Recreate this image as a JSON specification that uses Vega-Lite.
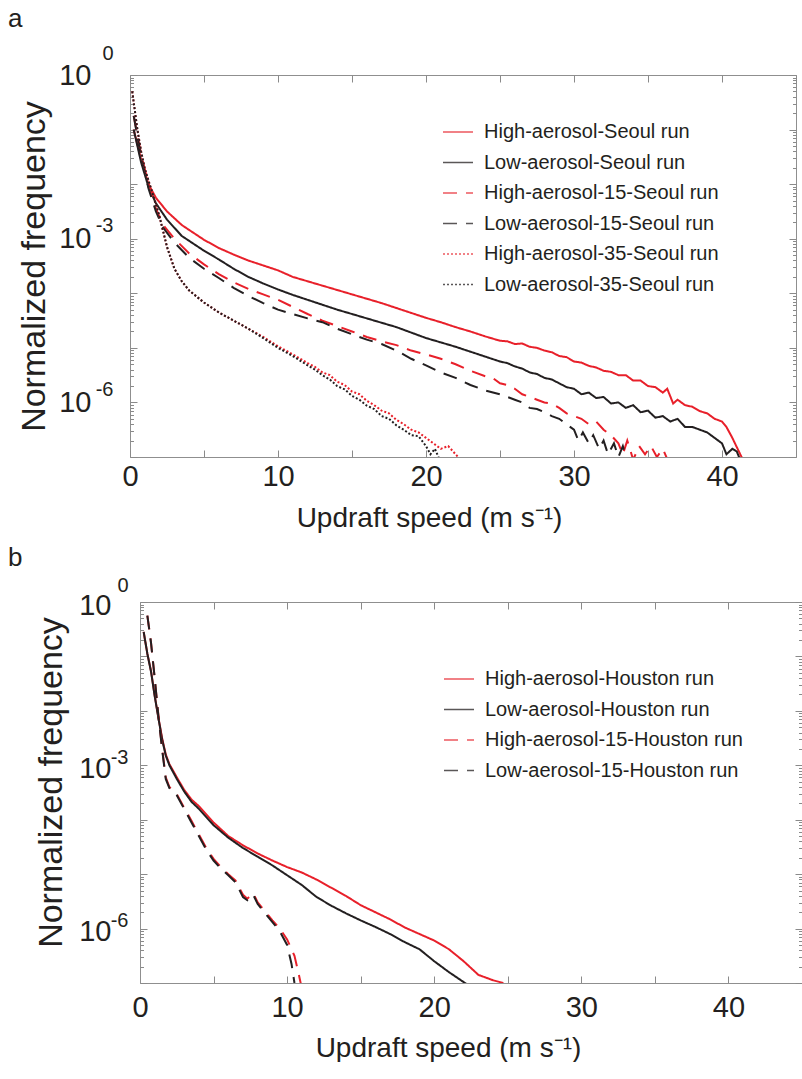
{
 "$schema": "https://vega.github.io/schema/vega-lite/v6.json",
 "padding": {"left": 7, "top": 5, "right": 0, "bottom": 0},
 "config": {
  "view": {"stroke": "#8f8f8f", "strokeWidth": 1},
  "axis": {"domain": false, "grid": false, "labelFlush": false, "tickColor": "#8a8a8a", "tickWidth": 1, "domainColor": "#8f8f8f", "domainWidth": 1, "labelFont": "Liberation Sans", "titleFont": "Liberation Sans", "labelColor": "#231f20", "titleColor": "#231f20", "titleFontWeight": "normal", "labelFontSize": 29, "titleFontSize": 28},
  "legend": {"orient": "none", "title": null, "symbolType": "stroke", "symbolSize": 900, "symbolStrokeWidth": 1.5, "symbolOpacity": 0.75, "labelFontSize": 20, "labelFont": "Liberation Sans", "labelColor": "#231f20", "rowPadding": 4.5, "labelOffset": 10, "labelLimit": 400},
  "concat": {"spacing": 12}
 },
 "resolve": {"scale": {"color": "independent", "strokeDash": "independent"}},
 "datasets": {
  "seoul": [
   {"run":"High-aerosol-Seoul run","w":0.25,"logf":-1.0},{"run":"High-aerosol-Seoul run","w":0.75,"logf":-1.55},{"run":"High-aerosol-Seoul run","w":1.25,"logf":-2.0},{"run":"High-aerosol-Seoul run","w":1.75,"logf":-2.25},{"run":"High-aerosol-Seoul run","w":2.5,"logf":-2.5},{"run":"High-aerosol-Seoul run","w":3.5,"logf":-2.75},{"run":"High-aerosol-Seoul run","w":5,"logf":-3.02},{"run":"High-aerosol-Seoul run","w":6,"logf":-3.17},{"run":"High-aerosol-Seoul run","w":7,"logf":-3.29},{"run":"High-aerosol-Seoul run","w":8,"logf":-3.4},{"run":"High-aerosol-Seoul run","w":9,"logf":-3.49},{"run":"High-aerosol-Seoul run","w":10,"logf":-3.58},{"run":"High-aerosol-Seoul run","w":11,"logf":-3.7},{"run":"High-aerosol-Seoul run","w":12,"logf":-3.78},{"run":"High-aerosol-Seoul run","w":13,"logf":-3.86},{"run":"High-aerosol-Seoul run","w":14,"logf":-3.94},{"run":"High-aerosol-Seoul run","w":15,"logf":-4.02},{"run":"High-aerosol-Seoul run","w":16,"logf":-4.1},{"run":"High-aerosol-Seoul run","w":17,"logf":-4.18},{"run":"High-aerosol-Seoul run","w":18,"logf":-4.27},{"run":"High-aerosol-Seoul run","w":19,"logf":-4.36},{"run":"High-aerosol-Seoul run","w":20,"logf":-4.45},{"run":"High-aerosol-Seoul run","w":21,"logf":-4.53},{"run":"High-aerosol-Seoul run","w":22,"logf":-4.62},{"run":"High-aerosol-Seoul run","w":23,"logf":-4.7},{"run":"High-aerosol-Seoul run","w":24,"logf":-4.79},{"run":"High-aerosol-Seoul run","w":25,"logf":-4.87},{"run":"High-aerosol-Seoul run","w":25.5,"logf":-4.88},{"run":"High-aerosol-Seoul run","w":26,"logf":-4.93},{"run":"High-aerosol-Seoul run","w":26.5,"logf":-4.92},{"run":"High-aerosol-Seoul run","w":27,"logf":-4.98},{"run":"High-aerosol-Seoul run","w":27.5,"logf":-5.0},{"run":"High-aerosol-Seoul run","w":28,"logf":-5.05},{"run":"High-aerosol-Seoul run","w":28.5,"logf":-5.08},{"run":"High-aerosol-Seoul run","w":29,"logf":-5.15},{"run":"High-aerosol-Seoul run","w":29.5,"logf":-5.17},{"run":"High-aerosol-Seoul run","w":30,"logf":-5.25},{"run":"High-aerosol-Seoul run","w":30.5,"logf":-5.27},{"run":"High-aerosol-Seoul run","w":31,"logf":-5.33},{"run":"High-aerosol-Seoul run","w":31.5,"logf":-5.36},{"run":"High-aerosol-Seoul run","w":32,"logf":-5.42},{"run":"High-aerosol-Seoul run","w":32.5,"logf":-5.44},{"run":"High-aerosol-Seoul run","w":33,"logf":-5.5},{"run":"High-aerosol-Seoul run","w":33.5,"logf":-5.5},{"run":"High-aerosol-Seoul run","w":34,"logf":-5.6},{"run":"High-aerosol-Seoul run","w":34.5,"logf":-5.6},{"run":"High-aerosol-Seoul run","w":35,"logf":-5.7},{"run":"High-aerosol-Seoul run","w":35.5,"logf":-5.72},{"run":"High-aerosol-Seoul run","w":36,"logf":-5.82},{"run":"High-aerosol-Seoul run","w":36.3,"logf":-5.75},{"run":"High-aerosol-Seoul run","w":36.7,"logf":-6.02},{"run":"High-aerosol-Seoul run","w":37,"logf":-5.95},{"run":"High-aerosol-Seoul run","w":37.5,"logf":-6.05},{"run":"High-aerosol-Seoul run","w":38,"logf":-6.08},{"run":"High-aerosol-Seoul run","w":38.5,"logf":-6.16},{"run":"High-aerosol-Seoul run","w":39,"logf":-6.2},{"run":"High-aerosol-Seoul run","w":39.5,"logf":-6.3},{"run":"High-aerosol-Seoul run","w":40,"logf":-6.35},{"run":"High-aerosol-Seoul run","w":40.3,"logf":-6.45},{"run":"High-aerosol-Seoul run","w":40.7,"logf":-6.65},{"run":"High-aerosol-Seoul run","w":41,"logf":-6.82},{"run":"High-aerosol-Seoul run","w":41.5,"logf":-7.1},

   {"run":"Low-aerosol-Seoul run","w":0.25,"logf":-1.0},{"run":"Low-aerosol-Seoul run","w":0.75,"logf":-1.6},{"run":"Low-aerosol-Seoul run","w":1.25,"logf":-2.05},{"run":"Low-aerosol-Seoul run","w":1.75,"logf":-2.35},{"run":"Low-aerosol-Seoul run","w":2.5,"logf":-2.65},{"run":"Low-aerosol-Seoul run","w":3.5,"logf":-2.95},{"run":"Low-aerosol-Seoul run","w":5,"logf":-3.22},{"run":"Low-aerosol-Seoul run","w":6,"logf":-3.38},{"run":"Low-aerosol-Seoul run","w":7,"logf":-3.55},{"run":"Low-aerosol-Seoul run","w":8,"logf":-3.7},{"run":"Low-aerosol-Seoul run","w":9,"logf":-3.82},{"run":"Low-aerosol-Seoul run","w":10,"logf":-3.93},{"run":"Low-aerosol-Seoul run","w":11,"logf":-4.03},{"run":"Low-aerosol-Seoul run","w":12,"logf":-4.12},{"run":"Low-aerosol-Seoul run","w":13,"logf":-4.21},{"run":"Low-aerosol-Seoul run","w":14,"logf":-4.3},{"run":"Low-aerosol-Seoul run","w":15,"logf":-4.38},{"run":"Low-aerosol-Seoul run","w":16,"logf":-4.46},{"run":"Low-aerosol-Seoul run","w":17,"logf":-4.54},{"run":"Low-aerosol-Seoul run","w":18,"logf":-4.62},{"run":"Low-aerosol-Seoul run","w":19,"logf":-4.72},{"run":"Low-aerosol-Seoul run","w":20,"logf":-4.82},{"run":"Low-aerosol-Seoul run","w":21,"logf":-4.9},{"run":"Low-aerosol-Seoul run","w":22,"logf":-4.98},{"run":"Low-aerosol-Seoul run","w":23,"logf":-5.07},{"run":"Low-aerosol-Seoul run","w":24,"logf":-5.16},{"run":"Low-aerosol-Seoul run","w":25,"logf":-5.25},{"run":"Low-aerosol-Seoul run","w":25.5,"logf":-5.28},{"run":"Low-aerosol-Seoul run","w":26,"logf":-5.34},{"run":"Low-aerosol-Seoul run","w":26.5,"logf":-5.38},{"run":"Low-aerosol-Seoul run","w":27,"logf":-5.45},{"run":"Low-aerosol-Seoul run","w":27.5,"logf":-5.48},{"run":"Low-aerosol-Seoul run","w":28,"logf":-5.55},{"run":"Low-aerosol-Seoul run","w":28.5,"logf":-5.58},{"run":"Low-aerosol-Seoul run","w":29,"logf":-5.65},{"run":"Low-aerosol-Seoul run","w":29.5,"logf":-5.72},{"run":"Low-aerosol-Seoul run","w":30,"logf":-5.75},{"run":"Low-aerosol-Seoul run","w":30.5,"logf":-5.85},{"run":"Low-aerosol-Seoul run","w":31,"logf":-5.82},{"run":"Low-aerosol-Seoul run","w":31.5,"logf":-5.92},{"run":"Low-aerosol-Seoul run","w":32,"logf":-5.9},{"run":"Low-aerosol-Seoul run","w":32.5,"logf":-6.02},{"run":"Low-aerosol-Seoul run","w":33,"logf":-6.0},{"run":"Low-aerosol-Seoul run","w":33.5,"logf":-6.1},{"run":"Low-aerosol-Seoul run","w":34,"logf":-6.05},{"run":"Low-aerosol-Seoul run","w":34.5,"logf":-6.18},{"run":"Low-aerosol-Seoul run","w":35,"logf":-6.15},{"run":"Low-aerosol-Seoul run","w":35.5,"logf":-6.28},{"run":"Low-aerosol-Seoul run","w":36,"logf":-6.25},{"run":"Low-aerosol-Seoul run","w":36.5,"logf":-6.35},{"run":"Low-aerosol-Seoul run","w":37,"logf":-6.3},{"run":"Low-aerosol-Seoul run","w":37.5,"logf":-6.45},{"run":"Low-aerosol-Seoul run","w":38,"logf":-6.45},{"run":"Low-aerosol-Seoul run","w":38.5,"logf":-6.5},{"run":"Low-aerosol-Seoul run","w":39,"logf":-6.55},{"run":"Low-aerosol-Seoul run","w":39.5,"logf":-6.65},{"run":"Low-aerosol-Seoul run","w":40,"logf":-6.75},{"run":"Low-aerosol-Seoul run","w":40.3,"logf":-6.95},{"run":"Low-aerosol-Seoul run","w":40.7,"logf":-6.85},{"run":"Low-aerosol-Seoul run","w":41,"logf":-6.9},{"run":"Low-aerosol-Seoul run","w":41.3,"logf":-7.1},

   {"run":"High-aerosol-15-Seoul run","w":0.25,"logf":-0.75},{"run":"High-aerosol-15-Seoul run","w":0.75,"logf":-1.45},{"run":"High-aerosol-15-Seoul run","w":1.25,"logf":-2.0},{"run":"High-aerosol-15-Seoul run","w":1.75,"logf":-2.45},{"run":"High-aerosol-15-Seoul run","w":2.25,"logf":-2.75},{"run":"High-aerosol-15-Seoul run","w":3,"logf":-3.0},{"run":"High-aerosol-15-Seoul run","w":4,"logf":-3.27},{"run":"High-aerosol-15-Seoul run","w":5,"logf":-3.47},{"run":"High-aerosol-15-Seoul run","w":6,"logf":-3.65},{"run":"High-aerosol-15-Seoul run","w":7,"logf":-3.8},{"run":"High-aerosol-15-Seoul run","w":8,"logf":-3.92},{"run":"High-aerosol-15-Seoul run","w":9,"logf":-4.02},{"run":"High-aerosol-15-Seoul run","w":10,"logf":-4.12},{"run":"High-aerosol-15-Seoul run","w":11,"logf":-4.25},{"run":"High-aerosol-15-Seoul run","w":12,"logf":-4.38},{"run":"High-aerosol-15-Seoul run","w":13,"logf":-4.5},{"run":"High-aerosol-15-Seoul run","w":14,"logf":-4.6},{"run":"High-aerosol-15-Seoul run","w":15,"logf":-4.7},{"run":"High-aerosol-15-Seoul run","w":16,"logf":-4.8},{"run":"High-aerosol-15-Seoul run","w":17,"logf":-4.88},{"run":"High-aerosol-15-Seoul run","w":18,"logf":-4.95},{"run":"High-aerosol-15-Seoul run","w":19,"logf":-5.05},{"run":"High-aerosol-15-Seoul run","w":20,"logf":-5.12},{"run":"High-aerosol-15-Seoul run","w":21,"logf":-5.2},{"run":"High-aerosol-15-Seoul run","w":22,"logf":-5.3},{"run":"High-aerosol-15-Seoul run","w":23,"logf":-5.42},{"run":"High-aerosol-15-Seoul run","w":24,"logf":-5.52},{"run":"High-aerosol-15-Seoul run","w":24.5,"logf":-5.55},{"run":"High-aerosol-15-Seoul run","w":25,"logf":-5.65},{"run":"High-aerosol-15-Seoul run","w":25.5,"logf":-5.68},{"run":"High-aerosol-15-Seoul run","w":26,"logf":-5.75},{"run":"High-aerosol-15-Seoul run","w":26.5,"logf":-5.85},{"run":"High-aerosol-15-Seoul run","w":27,"logf":-5.9},{"run":"High-aerosol-15-Seoul run","w":27.5,"logf":-5.95},{"run":"High-aerosol-15-Seoul run","w":28,"logf":-6.0},{"run":"High-aerosol-15-Seoul run","w":28.5,"logf":-6.02},{"run":"High-aerosol-15-Seoul run","w":29,"logf":-6.1},{"run":"High-aerosol-15-Seoul run","w":29.5,"logf":-6.2},{"run":"High-aerosol-15-Seoul run","w":30,"logf":-6.25},{"run":"High-aerosol-15-Seoul run","w":30.5,"logf":-6.3},{"run":"High-aerosol-15-Seoul run","w":31,"logf":-6.4},{"run":"High-aerosol-15-Seoul run","w":31.5,"logf":-6.35},{"run":"High-aerosol-15-Seoul run","w":32,"logf":-6.5},{"run":"High-aerosol-15-Seoul run","w":32.5,"logf":-6.6},{"run":"High-aerosol-15-Seoul run","w":33,"logf":-6.75},{"run":"High-aerosol-15-Seoul run","w":33.3,"logf":-6.95},{"run":"High-aerosol-15-Seoul run","w":33.6,"logf":-6.7},{"run":"High-aerosol-15-Seoul run","w":34,"logf":-7.05},{"run":"High-aerosol-15-Seoul run","w":34.4,"logf":-6.8},{"run":"High-aerosol-15-Seoul run","w":34.8,"logf":-6.95},{"run":"High-aerosol-15-Seoul run","w":35.2,"logf":-6.8},{"run":"High-aerosol-15-Seoul run","w":35.6,"logf":-7.0},{"run":"High-aerosol-15-Seoul run","w":36,"logf":-6.85},{"run":"High-aerosol-15-Seoul run","w":36.4,"logf":-7.1},

   {"run":"Low-aerosol-15-Seoul run","w":0.25,"logf":-0.75},{"run":"Low-aerosol-15-Seoul run","w":0.75,"logf":-1.5},{"run":"Low-aerosol-15-Seoul run","w":1.25,"logf":-2.08},{"run":"Low-aerosol-15-Seoul run","w":1.75,"logf":-2.5},{"run":"Low-aerosol-15-Seoul run","w":2.25,"logf":-2.8},{"run":"Low-aerosol-15-Seoul run","w":3,"logf":-3.07},{"run":"Low-aerosol-15-Seoul run","w":4,"logf":-3.35},{"run":"Low-aerosol-15-Seoul run","w":5,"logf":-3.55},{"run":"Low-aerosol-15-Seoul run","w":6,"logf":-3.72},{"run":"Low-aerosol-15-Seoul run","w":7,"logf":-3.9},{"run":"Low-aerosol-15-Seoul run","w":8,"logf":-4.05},{"run":"Low-aerosol-15-Seoul run","w":9,"logf":-4.18},{"run":"Low-aerosol-15-Seoul run","w":10,"logf":-4.3},{"run":"Low-aerosol-15-Seoul run","w":11,"logf":-4.38},{"run":"Low-aerosol-15-Seoul run","w":12,"logf":-4.46},{"run":"Low-aerosol-15-Seoul run","w":13,"logf":-4.53},{"run":"Low-aerosol-15-Seoul run","w":14,"logf":-4.65},{"run":"Low-aerosol-15-Seoul run","w":15,"logf":-4.75},{"run":"Low-aerosol-15-Seoul run","w":16,"logf":-4.85},{"run":"Low-aerosol-15-Seoul run","w":17,"logf":-4.93},{"run":"Low-aerosol-15-Seoul run","w":18,"logf":-5.05},{"run":"Low-aerosol-15-Seoul run","w":19,"logf":-5.2},{"run":"Low-aerosol-15-Seoul run","w":20,"logf":-5.32},{"run":"Low-aerosol-15-Seoul run","w":21,"logf":-5.45},{"run":"Low-aerosol-15-Seoul run","w":22,"logf":-5.55},{"run":"Low-aerosol-15-Seoul run","w":23,"logf":-5.68},{"run":"Low-aerosol-15-Seoul run","w":24,"logf":-5.78},{"run":"Low-aerosol-15-Seoul run","w":25,"logf":-5.85},{"run":"Low-aerosol-15-Seoul run","w":26,"logf":-5.95},{"run":"Low-aerosol-15-Seoul run","w":26.5,"logf":-6.0},{"run":"Low-aerosol-15-Seoul run","w":27,"logf":-6.1},{"run":"Low-aerosol-15-Seoul run","w":27.5,"logf":-6.12},{"run":"Low-aerosol-15-Seoul run","w":28,"logf":-6.18},{"run":"Low-aerosol-15-Seoul run","w":28.5,"logf":-6.25},{"run":"Low-aerosol-15-Seoul run","w":29,"logf":-6.3},{"run":"Low-aerosol-15-Seoul run","w":29.5,"logf":-6.4},{"run":"Low-aerosol-15-Seoul run","w":30,"logf":-6.5},{"run":"Low-aerosol-15-Seoul run","w":30.3,"logf":-6.7},{"run":"Low-aerosol-15-Seoul run","w":30.6,"logf":-6.55},{"run":"Low-aerosol-15-Seoul run","w":31,"logf":-6.75},{"run":"Low-aerosol-15-Seoul run","w":31.3,"logf":-6.6},{"run":"Low-aerosol-15-Seoul run","w":31.7,"logf":-6.85},{"run":"Low-aerosol-15-Seoul run","w":32,"logf":-6.7},{"run":"Low-aerosol-15-Seoul run","w":32.3,"logf":-6.95},{"run":"Low-aerosol-15-Seoul run","w":32.7,"logf":-6.75},{"run":"Low-aerosol-15-Seoul run","w":33,"logf":-7.0},{"run":"Low-aerosol-15-Seoul run","w":33.3,"logf":-6.8},{"run":"Low-aerosol-15-Seoul run","w":33.6,"logf":-7.1},

   {"run":"High-aerosol-35-Seoul run","w":0.15,"logf":-0.3},{"run":"High-aerosol-35-Seoul run","w":0.5,"logf":-1.0},{"run":"High-aerosol-35-Seoul run","w":0.75,"logf":-1.4},{"run":"High-aerosol-35-Seoul run","w":1.0,"logf":-1.72},{"run":"High-aerosol-35-Seoul run","w":1.5,"logf":-2.15},{"run":"High-aerosol-35-Seoul run","w":2.0,"logf":-2.6},{"run":"High-aerosol-35-Seoul run","w":2.5,"logf":-3.15},{"run":"High-aerosol-35-Seoul run","w":3.0,"logf":-3.55},{"run":"High-aerosol-35-Seoul run","w":3.5,"logf":-3.78},{"run":"High-aerosol-35-Seoul run","w":4,"logf":-3.95},{"run":"High-aerosol-35-Seoul run","w":5,"logf":-4.17},{"run":"High-aerosol-35-Seoul run","w":6,"logf":-4.35},{"run":"High-aerosol-35-Seoul run","w":7,"logf":-4.5},{"run":"High-aerosol-35-Seoul run","w":8,"logf":-4.65},{"run":"High-aerosol-35-Seoul run","w":9,"logf":-4.8},{"run":"High-aerosol-35-Seoul run","w":10,"logf":-4.97},{"run":"High-aerosol-35-Seoul run","w":11,"logf":-5.12},{"run":"High-aerosol-35-Seoul run","w":12,"logf":-5.28},{"run":"High-aerosol-35-Seoul run","w":12.5,"logf":-5.35},{"run":"High-aerosol-35-Seoul run","w":13,"logf":-5.45},{"run":"High-aerosol-35-Seoul run","w":13.5,"logf":-5.5},{"run":"High-aerosol-35-Seoul run","w":14,"logf":-5.62},{"run":"High-aerosol-35-Seoul run","w":14.5,"logf":-5.68},{"run":"High-aerosol-35-Seoul run","w":15,"logf":-5.8},{"run":"High-aerosol-35-Seoul run","w":15.5,"logf":-5.85},{"run":"High-aerosol-35-Seoul run","w":16,"logf":-5.97},{"run":"High-aerosol-35-Seoul run","w":16.5,"logf":-6.05},{"run":"High-aerosol-35-Seoul run","w":17,"logf":-6.15},{"run":"High-aerosol-35-Seoul run","w":17.5,"logf":-6.2},{"run":"High-aerosol-35-Seoul run","w":18,"logf":-6.32},{"run":"High-aerosol-35-Seoul run","w":18.5,"logf":-6.4},{"run":"High-aerosol-35-Seoul run","w":19,"logf":-6.5},{"run":"High-aerosol-35-Seoul run","w":19.5,"logf":-6.55},{"run":"High-aerosol-35-Seoul run","w":20,"logf":-6.65},{"run":"High-aerosol-35-Seoul run","w":20.5,"logf":-6.75},{"run":"High-aerosol-35-Seoul run","w":21,"logf":-6.85},{"run":"High-aerosol-35-Seoul run","w":21.5,"logf":-6.8},{"run":"High-aerosol-35-Seoul run","w":22,"logf":-6.95},{"run":"High-aerosol-35-Seoul run","w":22.5,"logf":-7.1},

   {"run":"Low-aerosol-35-Seoul run","w":0.15,"logf":-0.3},{"run":"Low-aerosol-35-Seoul run","w":0.5,"logf":-1.0},{"run":"Low-aerosol-35-Seoul run","w":0.75,"logf":-1.4},{"run":"Low-aerosol-35-Seoul run","w":1.0,"logf":-1.72},{"run":"Low-aerosol-35-Seoul run","w":1.5,"logf":-2.15},{"run":"Low-aerosol-35-Seoul run","w":2.0,"logf":-2.6},{"run":"Low-aerosol-35-Seoul run","w":2.5,"logf":-3.15},{"run":"Low-aerosol-35-Seoul run","w":3.0,"logf":-3.55},{"run":"Low-aerosol-35-Seoul run","w":3.5,"logf":-3.78},{"run":"Low-aerosol-35-Seoul run","w":4,"logf":-3.95},{"run":"Low-aerosol-35-Seoul run","w":5,"logf":-4.17},{"run":"Low-aerosol-35-Seoul run","w":6,"logf":-4.35},{"run":"Low-aerosol-35-Seoul run","w":7,"logf":-4.5},{"run":"Low-aerosol-35-Seoul run","w":8,"logf":-4.65},{"run":"Low-aerosol-35-Seoul run","w":9,"logf":-4.82},{"run":"Low-aerosol-35-Seoul run","w":10,"logf":-5.0},{"run":"Low-aerosol-35-Seoul run","w":11,"logf":-5.15},{"run":"Low-aerosol-35-Seoul run","w":12,"logf":-5.32},{"run":"Low-aerosol-35-Seoul run","w":12.5,"logf":-5.4},{"run":"Low-aerosol-35-Seoul run","w":13,"logf":-5.5},{"run":"Low-aerosol-35-Seoul run","w":13.5,"logf":-5.58},{"run":"Low-aerosol-35-Seoul run","w":14,"logf":-5.7},{"run":"Low-aerosol-35-Seoul run","w":14.5,"logf":-5.76},{"run":"Low-aerosol-35-Seoul run","w":15,"logf":-5.88},{"run":"Low-aerosol-35-Seoul run","w":15.5,"logf":-5.95},{"run":"Low-aerosol-35-Seoul run","w":16,"logf":-6.06},{"run":"Low-aerosol-35-Seoul run","w":16.5,"logf":-6.12},{"run":"Low-aerosol-35-Seoul run","w":17,"logf":-6.25},{"run":"Low-aerosol-35-Seoul run","w":17.5,"logf":-6.3},{"run":"Low-aerosol-35-Seoul run","w":18,"logf":-6.42},{"run":"Low-aerosol-35-Seoul run","w":18.5,"logf":-6.5},{"run":"Low-aerosol-35-Seoul run","w":19,"logf":-6.6},{"run":"Low-aerosol-35-Seoul run","w":19.5,"logf":-6.62},{"run":"Low-aerosol-35-Seoul run","w":20,"logf":-6.8},{"run":"Low-aerosol-35-Seoul run","w":20.3,"logf":-6.95},{"run":"Low-aerosol-35-Seoul run","w":20.6,"logf":-6.85},{"run":"Low-aerosol-35-Seoul run","w":21,"logf":-7.1}
  ],
  "houston": [
   {"run":"High-aerosol-Houston run","w":0.25,"logf":-0.55},{"run":"High-aerosol-Houston run","w":0.5,"logf":-0.95},{"run":"High-aerosol-Houston run","w":0.75,"logf":-1.27},{"run":"High-aerosol-Houston run","w":1.0,"logf":-1.72},{"run":"High-aerosol-Houston run","w":1.25,"logf":-2.12},{"run":"High-aerosol-Houston run","w":1.5,"logf":-2.5},{"run":"High-aerosol-Houston run","w":1.75,"logf":-2.8},{"run":"High-aerosol-Houston run","w":2.0,"logf":-2.98},{"run":"High-aerosol-Houston run","w":2.5,"logf":-3.22},{"run":"High-aerosol-Houston run","w":3,"logf":-3.45},{"run":"High-aerosol-Houston run","w":3.5,"logf":-3.63},{"run":"High-aerosol-Houston run","w":4,"logf":-3.75},{"run":"High-aerosol-Houston run","w":5,"logf":-4.05},{"run":"High-aerosol-Houston run","w":6,"logf":-4.3},{"run":"High-aerosol-Houston run","w":7,"logf":-4.47},{"run":"High-aerosol-Houston run","w":8,"logf":-4.62},{"run":"High-aerosol-Houston run","w":9,"logf":-4.75},{"run":"High-aerosol-Houston run","w":10,"logf":-4.87},{"run":"High-aerosol-Houston run","w":11,"logf":-4.97},{"run":"High-aerosol-Houston run","w":12,"logf":-5.1},{"run":"High-aerosol-Houston run","w":13,"logf":-5.25},{"run":"High-aerosol-Houston run","w":14,"logf":-5.4},{"run":"High-aerosol-Houston run","w":15,"logf":-5.57},{"run":"High-aerosol-Houston run","w":16,"logf":-5.7},{"run":"High-aerosol-Houston run","w":17,"logf":-5.83},{"run":"High-aerosol-Houston run","w":18,"logf":-5.98},{"run":"High-aerosol-Houston run","w":19,"logf":-6.1},{"run":"High-aerosol-Houston run","w":20,"logf":-6.22},{"run":"High-aerosol-Houston run","w":21,"logf":-6.38},{"run":"High-aerosol-Houston run","w":22,"logf":-6.6},{"run":"High-aerosol-Houston run","w":23,"logf":-6.85},{"run":"High-aerosol-Houston run","w":24,"logf":-6.95},{"run":"High-aerosol-Houston run","w":24.7,"logf":-7.0},

   {"run":"Low-aerosol-Houston run","w":0.25,"logf":-0.55},{"run":"Low-aerosol-Houston run","w":0.5,"logf":-0.95},{"run":"Low-aerosol-Houston run","w":0.75,"logf":-1.28},{"run":"Low-aerosol-Houston run","w":1.0,"logf":-1.73},{"run":"Low-aerosol-Houston run","w":1.25,"logf":-2.13},{"run":"Low-aerosol-Houston run","w":1.5,"logf":-2.52},{"run":"Low-aerosol-Houston run","w":1.75,"logf":-2.82},{"run":"Low-aerosol-Houston run","w":2.0,"logf":-3.0},{"run":"Low-aerosol-Houston run","w":2.5,"logf":-3.25},{"run":"Low-aerosol-Houston run","w":3,"logf":-3.48},{"run":"Low-aerosol-Houston run","w":3.5,"logf":-3.67},{"run":"Low-aerosol-Houston run","w":4,"logf":-3.8},{"run":"Low-aerosol-Houston run","w":5,"logf":-4.1},{"run":"Low-aerosol-Houston run","w":6,"logf":-4.33},{"run":"Low-aerosol-Houston run","w":7,"logf":-4.52},{"run":"Low-aerosol-Houston run","w":8,"logf":-4.68},{"run":"Low-aerosol-Houston run","w":9,"logf":-4.84},{"run":"Low-aerosol-Houston run","w":10,"logf":-5.02},{"run":"Low-aerosol-Houston run","w":11,"logf":-5.2},{"run":"Low-aerosol-Houston run","w":12,"logf":-5.42},{"run":"Low-aerosol-Houston run","w":13,"logf":-5.58},{"run":"Low-aerosol-Houston run","w":14,"logf":-5.72},{"run":"Low-aerosol-Houston run","w":15,"logf":-5.85},{"run":"Low-aerosol-Houston run","w":16,"logf":-5.97},{"run":"Low-aerosol-Houston run","w":17,"logf":-6.1},{"run":"Low-aerosol-Houston run","w":18,"logf":-6.25},{"run":"Low-aerosol-Houston run","w":19,"logf":-6.38},{"run":"Low-aerosol-Houston run","w":20,"logf":-6.6},{"run":"Low-aerosol-Houston run","w":21,"logf":-6.8},{"run":"Low-aerosol-Houston run","w":22.2,"logf":-7.02},

   {"run":"High-aerosol-15-Houston run","w":0.5,"logf":-0.25},{"run":"High-aerosol-15-Houston run","w":0.75,"logf":-0.75},{"run":"High-aerosol-15-Houston run","w":1.0,"logf":-1.4},{"run":"High-aerosol-15-Houston run","w":1.25,"logf":-2.08},{"run":"High-aerosol-15-Houston run","w":1.5,"logf":-2.68},{"run":"High-aerosol-15-Houston run","w":1.75,"logf":-3.22},{"run":"High-aerosol-15-Houston run","w":2.0,"logf":-3.4},{"run":"High-aerosol-15-Houston run","w":2.5,"logf":-3.53},{"run":"High-aerosol-15-Houston run","w":3.0,"logf":-3.78},{"run":"High-aerosol-15-Houston run","w":3.5,"logf":-4.02},{"run":"High-aerosol-15-Houston run","w":4,"logf":-4.27},{"run":"High-aerosol-15-Houston run","w":4.5,"logf":-4.52},{"run":"High-aerosol-15-Houston run","w":5,"logf":-4.72},{"run":"High-aerosol-15-Houston run","w":5.5,"logf":-4.87},{"run":"High-aerosol-15-Houston run","w":6,"logf":-5.0},{"run":"High-aerosol-15-Houston run","w":6.5,"logf":-5.12},{"run":"High-aerosol-15-Houston run","w":7.0,"logf":-5.38},{"run":"High-aerosol-15-Houston run","w":7.3,"logf":-5.45},{"run":"High-aerosol-15-Houston run","w":7.7,"logf":-5.35},{"run":"High-aerosol-15-Houston run","w":8.0,"logf":-5.52},{"run":"High-aerosol-15-Houston run","w":8.5,"logf":-5.68},{"run":"High-aerosol-15-Houston run","w":9,"logf":-5.85},{"run":"High-aerosol-15-Houston run","w":9.5,"logf":-6.0},{"run":"High-aerosol-15-Houston run","w":10,"logf":-6.2},{"run":"High-aerosol-15-Houston run","w":10.5,"logf":-6.5},{"run":"High-aerosol-15-Houston run","w":10.8,"logf":-6.85},{"run":"High-aerosol-15-Houston run","w":11,"logf":-7.1},

   {"run":"Low-aerosol-15-Houston run","w":0.5,"logf":-0.25},{"run":"Low-aerosol-15-Houston run","w":0.75,"logf":-0.75},{"run":"Low-aerosol-15-Houston run","w":1.0,"logf":-1.4},{"run":"Low-aerosol-15-Houston run","w":1.25,"logf":-2.1},{"run":"Low-aerosol-15-Houston run","w":1.5,"logf":-2.7},{"run":"Low-aerosol-15-Houston run","w":1.75,"logf":-3.25},{"run":"Low-aerosol-15-Houston run","w":2.0,"logf":-3.42},{"run":"Low-aerosol-15-Houston run","w":2.5,"logf":-3.55},{"run":"Low-aerosol-15-Houston run","w":3.0,"logf":-3.8},{"run":"Low-aerosol-15-Houston run","w":3.5,"logf":-4.05},{"run":"Low-aerosol-15-Houston run","w":4,"logf":-4.3},{"run":"Low-aerosol-15-Houston run","w":4.5,"logf":-4.55},{"run":"Low-aerosol-15-Houston run","w":5,"logf":-4.75},{"run":"Low-aerosol-15-Houston run","w":5.5,"logf":-4.9},{"run":"Low-aerosol-15-Houston run","w":6,"logf":-5.02},{"run":"Low-aerosol-15-Houston run","w":6.5,"logf":-5.15},{"run":"Low-aerosol-15-Houston run","w":7.0,"logf":-5.42},{"run":"Low-aerosol-15-Houston run","w":7.3,"logf":-5.48},{"run":"Low-aerosol-15-Houston run","w":7.7,"logf":-5.38},{"run":"Low-aerosol-15-Houston run","w":8.0,"logf":-5.55},{"run":"Low-aerosol-15-Houston run","w":8.5,"logf":-5.72},{"run":"Low-aerosol-15-Houston run","w":9,"logf":-5.88},{"run":"Low-aerosol-15-Houston run","w":9.5,"logf":-6.05},{"run":"Low-aerosol-15-Houston run","w":10,"logf":-6.3},{"run":"Low-aerosol-15-Houston run","w":10.3,"logf":-6.65},{"run":"Low-aerosol-15-Houston run","w":10.5,"logf":-7.0}
  ]
 },
 "vconcat": [
  {
   "width": 666, "height": 382,
   "title": {"text": "a", "anchor": "start", "frame": "group", "fontSize": 26, "fontWeight": "normal", "font": "Liberation Sans", "color": "#231f20", "offset": 11, "dx": -122},
   "data": {"name": "seoul"},
   "layer": [
    {"mark": {"type": "line", "strokeWidth": 2, "clip": true},
     "encoding": {
      "x": {"field": "w", "type": "quantitative", "scale": {"domain": [0, 45], "nice": false, "zero": false},
            "axis": {"orient": "bottom", "values": [0,5,10,15,20,25,30,35,40,45], "labelExpr": "datum.value % 10 === 0 && datum.value < 45 ? datum.label : ''", "tickSize": -7, "labelPadding": 12, "title": "Updraft speed (m s⁻¹)", "titleX": 299, "titlePadding": 13}},
      "y": {"field": "logf", "type": "quantitative", "scale": {"domain": [-7, 0], "nice": false, "zero": false},
            "axis": {"orient": "left", "values": [-7,-6,-5,-4,-3,-2,-1,0], "labelExpr": "datum.value % 3 === 0 ? '10' : ''", "tickSize": -7, "labelPadding": 46, "title": "Normalized frequency", "titleFontSize": 34, "titlePadding": 7}},
      "color": {"field": "run", "type": "nominal",
                "scale": {"domain": ["High-aerosol-Seoul run","Low-aerosol-Seoul run","High-aerosol-15-Seoul run","Low-aerosol-15-Seoul run","High-aerosol-35-Seoul run","Low-aerosol-35-Seoul run"], "range": ["#e8202a","#231f20","#e8202a","#231f20","#e8202a","#231f20"]},
                "legend": {"legendX": 312, "legendY": 41}},
      "strokeDash": {"field": "run", "type": "nominal",
                "scale": {"domain": ["High-aerosol-Seoul run","Low-aerosol-Seoul run","High-aerosol-15-Seoul run","Low-aerosol-15-Seoul run","High-aerosol-35-Seoul run","Low-aerosol-35-Seoul run"], "range": [[1,0],[1,0],[14,9],[14,9],[2,2],[2,2]]},
                "legend": {"legendX": 312, "legendY": 41}}
     }},
    {"mark": {"type": "point", "opacity": 0},
     "encoding": {
      "x": {"field": "w", "type": "quantitative", "axis": {"orient": "top", "values": [0,5,10,15,20,25,30,35,40,45], "labels": false, "tickSize": -7, "title": null}},
      "y": {"field": "logf", "type": "quantitative", "axis": {"orient": "left", "values": [-6,-3,0], "labelExpr": "datum.value === 0 ? '0' : '' + datum.value", "ticks": false, "tickSize": 0, "labelPadding": 17, "labelFontSize": 20, "labelOffset": {"condition": {"test": "datum.value === 0", "value": -22}, "value": -13}, "title": null}}
     }},
    {"mark": {"type": "point", "opacity": 0},
     "encoding": {
      "x": {"field": "w", "type": "quantitative", "axis": null},
      "y": {"field": "logf", "type": "quantitative", "axis": {"orient": "left", "values": [-6.699,-6.523,-6.398,-6.301,-6.222,-6.155,-6.097,-6.046,-5.699,-5.523,-5.398,-5.301,-5.222,-5.155,-5.097,-5.046,-4.699,-4.523,-4.398,-4.301,-4.222,-4.155,-4.097,-4.046,-3.699,-3.523,-3.398,-3.301,-3.222,-3.155,-3.097,-3.046,-2.699,-2.523,-2.398,-2.301,-2.222,-2.155,-2.097,-2.046,-1.699,-1.523,-1.398,-1.301,-1.222,-1.155,-1.097,-1.046,-0.699,-0.523,-0.398,-0.301,-0.222,-0.155,-0.097,-0.046], "labels": false, "tickSize": -3.5, "title": null}}
     }},
    {"mark": {"type": "point", "opacity": 0},
     "encoding": {
      "x": {"field": "w", "type": "quantitative", "axis": null},
      "y": {"field": "logf", "type": "quantitative", "axis": {"orient": "right", "values": [-7,-6,-5,-4,-3,-2,-1,0], "labels": false, "tickSize": -7, "title": null}}
     }},
    {"mark": {"type": "point", "opacity": 0},
     "encoding": {
      "x": {"field": "w", "type": "quantitative", "axis": null},
      "y": {"field": "logf", "type": "quantitative", "axis": {"orient": "right", "values": [-6.699,-6.523,-6.398,-6.301,-6.222,-6.155,-6.097,-6.046,-5.699,-5.523,-5.398,-5.301,-5.222,-5.155,-5.097,-5.046,-4.699,-4.523,-4.398,-4.301,-4.222,-4.155,-4.097,-4.046,-3.699,-3.523,-3.398,-3.301,-3.222,-3.155,-3.097,-3.046,-2.699,-2.523,-2.398,-2.301,-2.222,-2.155,-2.097,-2.046,-1.699,-1.523,-1.398,-1.301,-1.222,-1.155,-1.097,-1.046,-0.699,-0.523,-0.398,-0.301,-0.222,-0.155,-0.097,-0.046], "labels": false, "tickSize": -3.5, "title": null}}
     }}
   ],
   "resolve": {"axis": {"x": "independent", "y": "independent"}}
  },
  {
   "width": 672, "height": 381,
   "view": {"stroke": null},
   "title": {"text": "b", "anchor": "start", "frame": "group", "fontSize": 26, "fontWeight": "normal", "font": "Liberation Sans", "color": "#231f20", "offset": 4, "dx": -122},
   "data": {"name": "houston"},
   "layer": [
    {"mark": {"type": "line", "strokeWidth": 2, "clip": true},
     "encoding": {
      "x": {"field": "w", "type": "quantitative", "scale": {"domain": [0, 45], "range": [10, 672], "nice": false, "zero": false},
            "axis": {"orient": "bottom", "domain": true, "values": [0,5,10,15,20,25,30,35,40,45], "labelExpr": "datum.value % 10 === 0 && datum.value < 45 ? datum.label : ''", "tickSize": -7, "labelPadding": 17, "title": "Updraft speed (m s⁻¹)", "titleX": 318, "titlePadding": 12}},
      "y": {"field": "logf", "type": "quantitative", "scale": {"domain": [-7, 0], "nice": false, "zero": false},
            "axis": {"orient": "left", "offset": -10, "domain": true, "values": [-7,-6,-5,-4,-3,-2,-1,0], "labelExpr": "datum.value % 3 === 0 ? '10' : ''", "labelOffset": 3, "tickSize": -7, "labelPadding": 36, "title": "Normalized frequency", "titleFontSize": 34, "titlePadding": 10, "titleY": 180}},
      "color": {"field": "run", "type": "nominal",
                "scale": {"domain": ["High-aerosol-Houston run","Low-aerosol-Houston run","High-aerosol-15-Houston run","Low-aerosol-15-Houston run"], "range": ["#e8202a","#231f20","#e8202a","#231f20"]},
                "legend": {"legendX": 313, "legendY": 61}},
      "strokeDash": {"field": "run", "type": "nominal",
                "scale": {"domain": ["High-aerosol-Houston run","Low-aerosol-Houston run","High-aerosol-15-Houston run","Low-aerosol-15-Houston run"], "range": [[1,0],[1,0],[14,9],[14,9]]},
                "legend": {"legendX": 313, "legendY": 61}}
     }},
    {"mark": {"type": "point", "opacity": 0},
     "encoding": {
      "x": {"field": "w", "type": "quantitative", "axis": {"orient": "top", "domain": true, "values": [0,5,10,15,20,25,30,35,40,45], "labels": false, "tickSize": -7, "title": null}},
      "y": {"field": "logf", "type": "quantitative", "axis": {"orient": "left", "offset": -10, "values": [-6,-3,0], "labelExpr": "datum.value === 0 ? '0' : '' + datum.value", "ticks": false, "tickSize": 0, "labelPadding": 12, "labelFontSize": 20, "labelOffset": {"condition": {"test": "datum.value === 0", "value": -17}, "value": -8}, "title": null}}
     }},
    {"mark": {"type": "point", "opacity": 0},
     "encoding": {
      "x": {"field": "w", "type": "quantitative", "axis": null},
      "y": {"field": "logf", "type": "quantitative", "axis": {"orient": "left", "offset": -10, "values": [-6.699,-6.523,-6.398,-6.301,-6.222,-6.155,-6.097,-6.046,-5.699,-5.523,-5.398,-5.301,-5.222,-5.155,-5.097,-5.046,-4.699,-4.523,-4.398,-4.301,-4.222,-4.155,-4.097,-4.046,-3.699,-3.523,-3.398,-3.301,-3.222,-3.155,-3.097,-3.046,-2.699,-2.523,-2.398,-2.301,-2.222,-2.155,-2.097,-2.046,-1.699,-1.523,-1.398,-1.301,-1.222,-1.155,-1.097,-1.046,-0.699,-0.523,-0.398,-0.301,-0.222,-0.155,-0.097,-0.046], "labels": false, "tickSize": -3.5, "title": null}}
     }},
    {"mark": {"type": "point", "opacity": 0},
     "encoding": {
      "x": {"field": "w", "type": "quantitative", "axis": null},
      "y": {"field": "logf", "type": "quantitative", "axis": {"orient": "right", "domain": true, "values": [-7,-6,-5,-4,-3,-2,-1,0], "labels": false, "tickSize": -7, "title": null}}
     }},
    {"mark": {"type": "point", "opacity": 0},
     "encoding": {
      "x": {"field": "w", "type": "quantitative", "axis": null},
      "y": {"field": "logf", "type": "quantitative", "axis": {"orient": "right", "values": [-6.699,-6.523,-6.398,-6.301,-6.222,-6.155,-6.097,-6.046,-5.699,-5.523,-5.398,-5.301,-5.222,-5.155,-5.097,-5.046,-4.699,-4.523,-4.398,-4.301,-4.222,-4.155,-4.097,-4.046,-3.699,-3.523,-3.398,-3.301,-3.222,-3.155,-3.097,-3.046,-2.699,-2.523,-2.398,-2.301,-2.222,-2.155,-2.097,-2.046,-1.699,-1.523,-1.398,-1.301,-1.222,-1.155,-1.097,-1.046,-0.699,-0.523,-0.398,-0.301,-0.222,-0.155,-0.097,-0.046], "labels": false, "tickSize": -3.5, "title": null}}
     }}
   ],
   "resolve": {"axis": {"x": "independent", "y": "independent"}}
  }
 ]
}
